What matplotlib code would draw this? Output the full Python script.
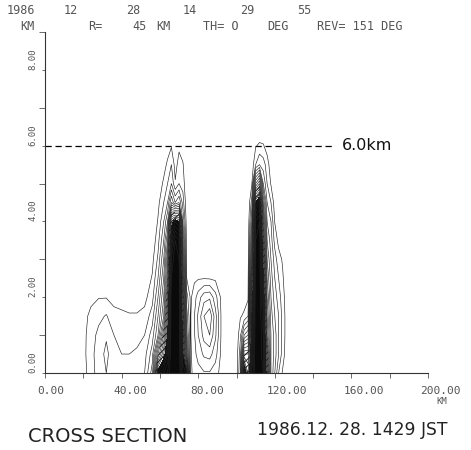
import numpy as np
import matplotlib
matplotlib.use('Agg')
import matplotlib.pyplot as plt
from matplotlib.transforms import ScaledTranslation

# horizontal range of each sampled column (km)
range_km = [16, 20, 24, 28, 32, 36, 40, 44, 48, 52, 56, 59, 62, 64, 66, 68, 70, 72,
            74, 76, 78, 80, 83, 86, 89, 92, 96, 100, 102, 104, 106, 108, 110, 112,
            114, 116, 118, 120, 122, 124, 126, 130]
# heights of the samples in each column (km)
height_km = [0, 0.5, 1, 1.5, 2, 2.5, 3, 3.5, 4, 4.5, 5, 5.5, 6, 6.5]

# echo intensity (contour step count), one list per column, bottom up
profiles = [
    [0],
    [0.6, 0.7, 0.7, 0.6, 0.3],
    [1.5, 1.6, 1.5, 1.3, 0.7, 0.2],
    [2.5, 2.6, 2.3, 1.7, 0.95, 0.4],
    [3.0, 3.2, 2.9, 2.1, 0.95, 0.3],
    [2.6, 2.5, 2.0, 1.3, 0.7, 0.2],
    [2.3, 2.0, 1.6, 1.2, 0.6, 0.1],
    [2.4, 2.0, 1.5, 1.1, 0.5],
    [2.6, 2.2, 1.6, 1.1, 0.5],
    [3.0, 2.6, 2.0, 1.3, 0.7, 0.3],
    [5.5, 4.5, 3.5, 2.5, 1.6, 1.1, 0.7, 0.3],
    [16, 10, 6, 5, 4, 3, 2.2, 1.6, 1.1, 0.7, 0.3],
    [18, 14, 11, 8, 7, 6, 5, 4, 3, 2, 1.2, 0.6],
    [19, 17, 15, 13, 12, 10, 9, 7, 5, 3, 2, 1.2, 0.5],
    [21, 21, 21, 21, 21, 20, 19, 17, 14, 6, 3, 2, 0.9],
    [21, 21, 21, 21, 21, 21, 21, 20, 16, 4, 1.1, 0.6],
    [21, 21, 21, 21, 21, 21, 20, 19, 15, 5, 2, 1.4, 0.8],
    [17, 15, 14, 13, 12, 10, 8, 6, 4, 2.5, 1.6, 1.1, 0.4],
    [15.5, 7, 4.5, 3.5, 2.5, 1.0, 0.8, 0.6, 0.4, 0.2],
    [0.8, 0.8, 0.9, 0.9, 0.8, 0.6, 0.3],
    [1.3, 1.7, 1.9, 2.0, 1.6, 0.8, 0.3],
    [1.6, 2.4, 3.0, 3.2, 2.5, 0.9, 0.4],
    [1.9, 3.2, 4.4, 5.0, 3.6, 0.95, 0.4],
    [1.9, 3.4, 5.0, 5.8, 3.8, 0.9, 0.3],
    [1.5, 2.4, 3.2, 3.4, 2.4, 0.8, 0.2],
    [0.6, 0.8, 0.9, 0.9, 0.8, 0.4],
    [0],
    [0.5, 0.4, 0.2],
    [3.0, 2.6, 1.8, 0.9, 0.3],
    [17, 11, 5, 1.2, 0.5, 0.3, 0.1],
    [13, 11, 6, 2, 0.8, 0.5, 0.3, 0.2, 0.1],
    [18, 17, 16, 15, 13, 11, 8, 6, 4, 2.5, 0.9, 0.3],
    [21, 21, 21, 21, 21, 21, 21, 20, 19, 15, 8, 2, 0.9],
    [21, 21, 21, 21, 21, 21, 21, 21, 20, 17, 10, 3, 1.2],
    [20, 19, 19, 18, 17, 15, 14, 12, 10, 7, 4, 2.5, 1.1],
    [13, 12, 10, 9, 8, 7, 6, 5, 4, 3, 2, 1.5, 0.5],
    [6, 6, 6, 5.5, 5, 4.5, 4, 3.5, 3, 2, 0.9, 0.4],
    [4, 4.5, 4.5, 4, 3.5, 3, 2.5, 1.6, 0.95, 0.5, 0.2],
    [2, 3, 3, 3, 2.5, 2, 1.4, 0.7, 0.3],
    [0.9, 1.6, 1.7, 1.7, 1.5, 1.2, 0.9, 0.3],
    [0.3, 0.5, 0.6, 0.6, 0.5, 0.3, 0.1],
    [0],
]

echo_top_km = 6.0
echo_top_label = '6.0km'
x_ticks = [0, 20, 40, 60, 80, 100, 120, 140, 160, 180, 200]
x_labels = ['0.00', '', '40.00', '', '80.00', '', '120.00', '', '160.00', '', '200.00']
y_major = [0, 2, 4, 6, 8]
y_labels = ['0.00', '2.00', '4.00', '6.00', '8.00']
y_minor = [1, 3, 5, 7, 9]

header1 = [('1986', 7), ('12', 64), ('28', 126), ('14', 183), ('29', 240), ('55', 297)]
header2 = [('KM', 20), ('R=', 88), ('45', 132), ('KM', 156), ('TH= O', 203),
           ('DEG', 267), ('REV= 151 DEG', 317)]

W, H = 471, 450
Z = np.zeros((len(height_km), len(range_km)))
for i, col in enumerate(profiles):
    Z[:len(col), i] = col

plt.rcParams['hatch.linewidth'] = 0.6
fig = plt.figure(figsize=(W / 100, H / 100), dpi=100)
ax = fig.add_axes([45 / W, 1 - 373 / H, 383 / W, 341 / H])

# dense cores print almost solid, the band below them hatched
ax.contourf(range_km, height_km, Z, levels=[10, 15], colors='none', hatches=['/////'])
ax.contourf(range_km, height_km, Z, levels=[15, 30], colors='#0a0a0a')
ax.contour(range_km, height_km, Z, levels=np.arange(1, 21), colors='#222222',
           linewidths=0.45)

ax.plot([0, 150], [echo_top_km, echo_top_km], color='k', lw=0.9,
        dashes=(5, 3), clip_on=False)
ax.text(155, echo_top_km, echo_top_label, fontsize=11.5, va='center', ha='left',
        color='#111111')

ax.set_xlim(0, 200)
ax.set_ylim(0, 9)
for s in ['top', 'right']:
    ax.spines[s].set_visible(False)
for s in ['left', 'bottom']:
    ax.spines[s].set_linewidth(0.8)
    ax.spines[s].set_color('#333333')

mono = 'DejaVu Sans Mono'
ax.set_xticks(x_ticks)
ax.set_xticklabels(x_labels, fontsize=8, family=mono, color='#555555', ha='left')
ax.tick_params(axis='x', direction='out', length=3.5, width=0.6, color='#555555',
               pad=6)
off = ScaledTranslation(-8 / 100, 0, fig.dpi_scale_trans)
for lab in ax.get_xticklabels():
    lab.set_transform(lab.get_transform() + off)

ax.set_yticks(y_major)
ax.set_yticklabels(y_labels, fontsize=6.5, family=mono, color='#555555',
                   rotation=90, va='bottom', ha='right')
ax.set_yticks(y_minor, minor=True)
ax.tick_params(axis='y', which='major', direction='out', length=2.2, width=0.6,
               color='#555555', pad=3)
ax.tick_params(axis='y', which='minor', direction='out', length=4.5, width=0.6,
               color='#555555')

ax.text(1.035, -0.085, 'KM', transform=ax.transAxes, fontsize=6.5, family=mono,
        color='#555555', ha='center', va='center')

for txt, px in header1:
    fig.text(px / W, 1 - 11 / H, txt, fontsize=8.5, family=mono, color='#555555',
             va='center', ha='left')
for txt, px in header2:
    fig.text(px / W, 1 - 26 / H, txt, fontsize=8.5, family=mono, color='#555555',
             va='center', ha='left')

fig.text(28 / W, 1 - 436 / H, 'CROSS SECTION', fontsize=14, color='#222222',
         va='center', ha='left')
fig.text(257 / W, 1 - 430 / H, '1986.12. 28. 1429 JST', fontsize=12.3, color='#222222',
         va='center', ha='left')

fig.savefig('out.png', dpi=100, facecolor='white')
